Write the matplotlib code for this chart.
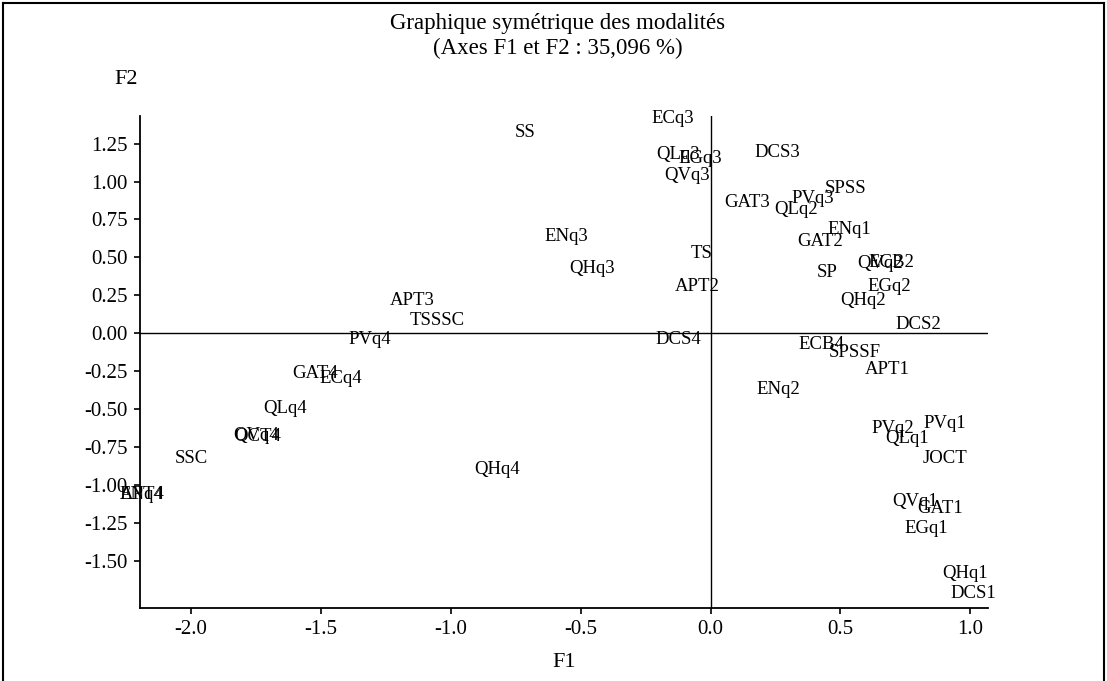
import matplotlib
matplotlib.use("Agg")
import matplotlib.pyplot as plt
from matplotlib.lines import Line2D

# ---- data ----
labels = ["SS", "ECq3", "QLq3", "EGq3", "QVq3", "DCS3", "SPSS", "PVq3", "GAT3", "QLq2",
          "ENq1", "GAT2", "ENq3", "TS", "QHq3", "ECB2", "QVq2", "SP", "APT2", "EGq2",
          "QHq2", "DCS2", "DCS4", "APT3", "TSSSC", "PVq4", "GAT4", "ECq4", "QLq4", "QVq4",
          "OCT4", "SSC", "ENq4", "APT4", "QHq4", "ECB4", "SPSSF", "APT1", "ENq2", "PVq2",
          "PVq1", "QLq1", "JOCT", "QVq1", "GAT1", "EGq1", "QHq1", "DCS1"]
f1 = [-0.715, -0.144, -0.125, -0.041, -0.092, 0.256, 0.520, 0.395, 0.142, 0.328,
      0.536, 0.421, -0.554, -0.035, -0.456, 0.697, 0.652, 0.447, -0.050, 0.688,
      0.588, 0.800, -0.126, -1.148, -1.053, -1.312, -1.524, -1.425, -1.637, -1.752,
      -1.745, -1.998, -2.192, -2.190, -0.824, 0.427, 0.556, 0.680, 0.260, 0.703,
      0.902, 0.755, 0.902, 0.787, 0.883, 0.832, 0.979, 1.011]
f2 = [1.325, 1.417, 1.175, 1.153, 1.043, 1.193, 0.956, 0.890, 0.861, 0.813,
      0.681, 0.604, 0.641, 0.527, 0.424, 0.468, 0.457, 0.400, 0.307, 0.307,
      0.213, 0.055, -0.040, 0.213, 0.083, -0.040, -0.264, -0.297, -0.494, -0.677,
      -0.680, -0.824, -1.066, -1.062, -0.897, -0.077, -0.128, -0.242, -0.374, -0.626,
      -0.593, -0.692, -0.824, -1.110, -1.154, -1.285, -1.582, -1.714]
xticks = [-2.0, -1.5, -1.0, -0.5, 0.0, 0.5, 1.0]
yticks = [1.25, 1.00, 0.75, 0.50, 0.25, 0.00, -0.25, -0.50, -0.75, -1.00, -1.25, -1.50]
title1 = "Graphique symétrique des modalités"
title2 = "(Axes F1 et F2 : 35,096 %)"

W, H = 1107, 681
FONT = "Liberation Serif"
plt.rcParams["font.family"] = [FONT, "DejaVu Serif"]

fig = plt.figure(figsize=(W / 100, H / 100), dpi=100)
ax = fig.add_axes([140 / W, 1 - 607.7 / H, (988 - 140) / W, (607.7 - 116) / H])

ax.set_xlim(-2.197, 1.068)
ax.set_ylim(-1.809, 1.432)

for lab, x, y in zip(labels, f1, f2):
    ax.text(x, y, lab, ha="center", va="center", fontsize=13.5, color="black",
            family=FONT, clip_on=False)

ax.axhline(0, color="black", lw=1.0, zorder=0)
ax.axvline(0, color="black", lw=1.0, zorder=0)

for s in ["top", "right"]:
    ax.spines[s].set_visible(False)
for s in ["left", "bottom"]:
    ax.spines[s].set_linewidth(1.3)
    ax.spines[s].set_color("black")

ax.set_xticks(xticks)
ax.set_xticklabels([f"{t:.1f}" for t in xticks])
ax.set_yticks(yticks)
ax.set_yticklabels([f"{t:.2f}" for t in yticks])
ax.tick_params(direction="out", length=4, width=1.2, labelsize=15, pad=5)

ax.set_xlabel("F1", fontsize=16, labelpad=10)
fig.text(126 / W, 1 - 80 / H, "F2", ha="center", va="center", fontsize=16)

fig.text(558 / W, 1 - 24 / H, title1, ha="center", va="center", fontsize=16.5)
fig.text(558 / W, 1 - 48 / H, title2, ha="center", va="center", fontsize=16.5)

# outer frame
fr = dict(color="black", lw=1.5, transform=fig.transFigure)
fig.add_artist(Line2D([3 / W, 1 - 3 / W], [1 - 3 / H, 1 - 3 / H], **fr))
fig.add_artist(Line2D([3 / W, 3 / W], [0, 1 - 3 / H], **fr))
fig.add_artist(Line2D([1 - 3 / W, 1 - 3 / W], [0, 1 - 3 / H], **fr))

fig.savefig("out.png", dpi=100)
